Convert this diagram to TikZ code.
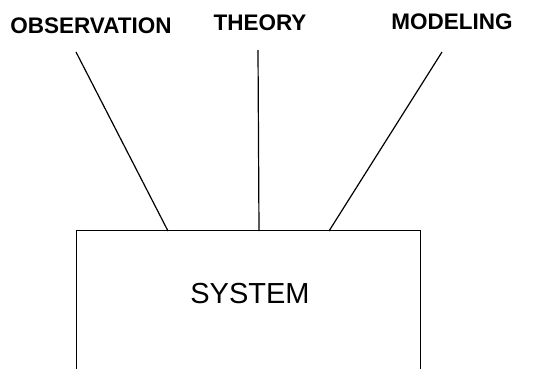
\documentclass[tikz,border=0pt]{standalone}
\usepackage{fontspec}
\setmainfont{Liberation Sans}
\usetikzlibrary{positioning}

\begin{document}
\begin{tikzpicture}[x=1pt, y=-1pt,
    heading/.style={font=\bfseries\fontsize{22.5}{27}\selectfont, inner sep=0pt},
    sysbox/.style={minimum width=343pt, minimum height=138pt, inner sep=0pt},
    line/.style={draw, line width=1.2pt}]
    \useasboundingbox (0,0) rectangle (535,369);

    \node [heading] (obs) at (91,26) {OBSERVATION};
    \node [heading] (theory) at (260,23) {THEORY};
    \node [heading] (model) at (452,22) {MODELING};

    \node [sysbox] (system) at (248.5,300) {};
    \node [font=\fontsize{29}{34}\selectfont, inner sep=0pt] (systemlabel) at (250,294) {SYSTEM};

    % free ends of the three lines
    \coordinate (obstop) at (76,52);
    \coordinate (theorytop) at (258,50);
    \coordinate (modeltop) at (442,52);
    \coordinate (obsfoot) at (168,231);
    \coordinate (theoryfoot) at (259,231);
    \coordinate (modelfoot) at (329,231);

    \path [line] (system.south west) -- (system.north west) -- (system.north east) -- (system.south east);
    \path [line] (obstop) -- (obsfoot);
    \path [line] (theorytop) -- (theoryfoot);
    \path [line] (modeltop) -- (modelfoot);
\end{tikzpicture}
\end{document}
